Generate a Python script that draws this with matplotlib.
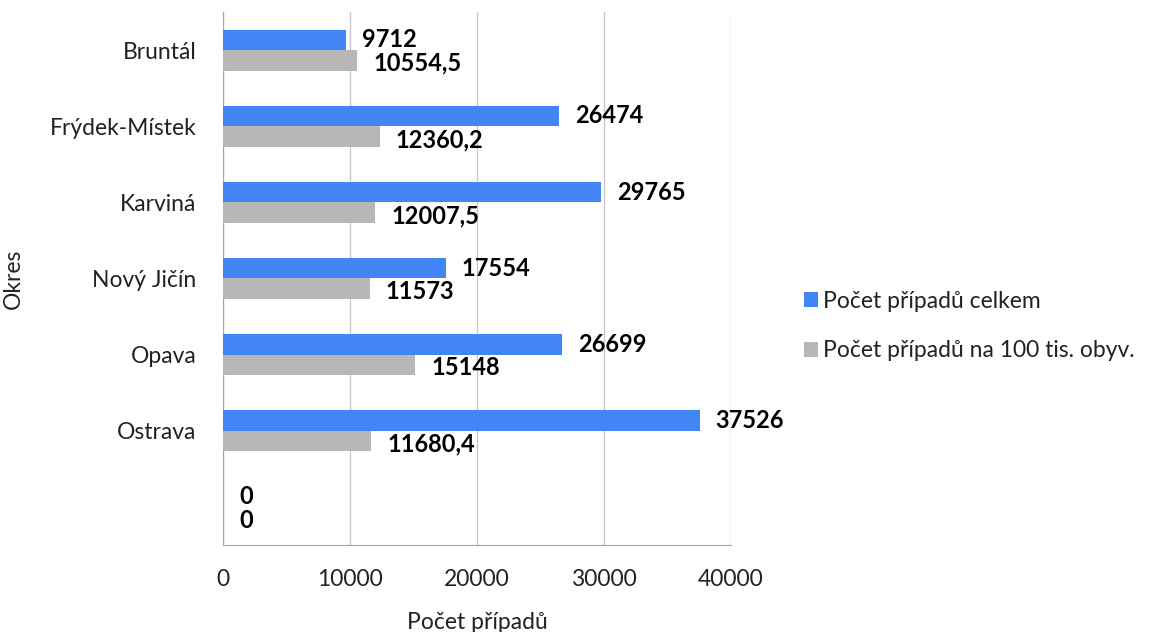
import numpy as np
import matplotlib
matplotlib.use('Agg')
import matplotlib.pyplot as plt

okresy = ['Bruntál', 'Frýdek-Místek', 'Karviná', 'Nový Jičín', 'Opava', 'Ostrava', '']
celkem = [9712, 26474, 29765, 17554, 26699, 37526, 0]
na_100tis = [10554.5, 12360.2, 12007.5, 11573, 15148, 11680.4, 0]
series_names = ['Počet případů celkem', 'Počet případů na 100 tis. obyv.']
x_ticks = [0, 10000, 20000, 30000, 40000]

BLUE = '#4285f4'
GRAY = '#b7b7b7'

plt.rcParams['font.family'] = ['Lato', 'DejaVu Sans']

def fmt(v):
    return f'{v:g}'.replace('.', ',')

fig = plt.figure(figsize=(11.65, 6.32), dpi=100)
ax = fig.add_axes([0.1914, 0.1377, 0.4361, 0.8433])

y = np.arange(len(okresy))
h = 0.27
b1 = ax.barh(y - h / 2, celkem, height=h, color=BLUE, label=series_names[0], zorder=3)
b2 = ax.barh(y + h / 2, na_100tis, height=h, color=GRAY, label=series_names[1], zorder=3)

# popisky hodnot vpravo od konce sloupce
for bars, vals, dy in [(b1, celkem, 0.0), (b2, na_100tis, 0.04)]:
    for bar, v in zip(bars, vals):
        ax.annotate(fmt(v), (v, bar.get_y() + bar.get_height() / 2 + dy),
                    xytext=(16, 0), textcoords='offset pixels',
                    ha='left', va='center', fontsize=17, fontweight='bold', color='black')

ax.set_xlim(0, 40000)
ax.set_ylim(len(okresy) - 0.5, -0.5)
ax.set_xticks(x_ticks)
ax.set_xticklabels([str(t) for t in x_ticks])
ax.set_yticks(y)
ax.set_yticklabels(okresy)
ax.tick_params(axis='both', length=0, labelsize=16.5, colors='#222222')
ax.tick_params(axis='x', pad=17)
ax.tick_params(axis='y', pad=19)
ax.grid(axis='x', color='#c8c8c8', linewidth=1, zorder=0)
for s in ['top', 'right']:
    ax.spines[s].set_visible(False)
for s in ['left', 'bottom']:
    ax.spines[s].set_color('#a6a6a6')

ax.set_xlabel('Počet případů', fontsize=16.5, color='#222222')
ax.set_ylabel('Okres', fontsize=16.5, color='#222222')
ax.xaxis.set_label_coords(0.5, -0.126)
ax.yaxis.set_label_coords(-0.392, 0.5)

fig.legend(handles=[b1, b2], loc='center left', bbox_to_anchor=(0.672, 0.484),
           frameon=False, fontsize=16.5, handlelength=0.65, handleheight=0.65,
           handletextpad=0.2, labelspacing=1.25, labelcolor='#222222')

fig.savefig('out.png', dpi=100)
